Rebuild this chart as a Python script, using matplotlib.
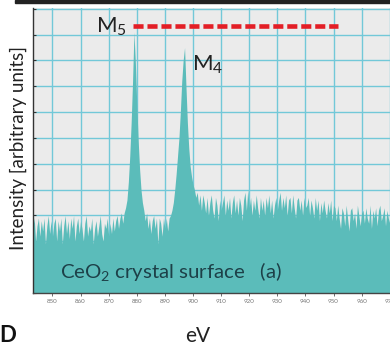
import numpy as np
import matplotlib
matplotlib.use("Agg")
import matplotlib.pyplot as plt
from matplotlib.patches import Rectangle

plt.rcParams['font.family'] = ['Lato', 'DejaVu Sans']
plt.rcParams['mathtext.fontset'] = 'custom'
plt.rcParams['mathtext.rm'] = 'Lato'
plt.rcParams['mathtext.it'] = 'Lato:italic'

# ---- data ----
energy_start = 843.0
energy_step = 0.5
intensity = [
    # 843.0 - 849.5
    2.5, 2.9, 2.0, 2.6, 2.9, 2.2, 2.8, 2.4, 2.9, 1.9, 2.6, 3.0, 2.3, 2.8, 2.2,
    # 850 - 859.5
    2.7, 2.9, 2.0, 2.8, 2.4, 2.9, 1.9, 2.6, 3.0, 2.3, 2.8, 2.1, 2.9, 2.5, 3.0, 2.0, 2.6, 2.9, 2.3, 2.8,
    # 860 - 869.5
    2.5, 2.0, 2.7, 3.0, 2.2, 2.6, 2.4, 2.9, 1.9, 2.5, 2.8, 2.2, 2.6, 3.0, 2.3, 2.0, 2.7, 2.5, 2.9, 2.2,
    # 870 - 879.5
    2.7, 2.3, 2.9, 2.4, 2.8, 3.0, 2.5, 2.9, 3.1, 2.7, 3.1, 3.3, 3.6, 4.3, 5.3, 6.6, 8.2, 10.1, 8.9, 7.3,
    # 880 - 889.5
    5.9, 4.8, 4.0, 3.5, 3.2, 2.8, 3.1, 2.5, 2.9, 2.3, 2.8, 3.0, 2.5, 2.9, 1.9, 2.9, 2.7, 2.2, 2.9, 2.5,
    # 890 - 899.5
    2.9, 2.4, 2.9, 3.0, 3.2, 3.5, 4.0, 4.6, 5.3, 6.0, 7.0, 8.2, 9.0, 9.5, 8.0, 6.6, 5.6, 4.9, 4.5, 4.2,
    # 900 - 909.5
    4.0, 3.7, 3.9, 3.4, 3.8, 3.2, 3.8, 3.5, 3.1, 3.7, 3.0, 3.5, 3.8, 3.2, 2.9, 3.7, 3.4, 2.8, 3.6, 3.2,
    # 910 - 919.5
    3.5, 3.8, 3.0, 3.6, 3.2, 3.7, 2.9, 3.5, 3.8, 3.1, 3.6, 3.0, 3.7, 3.4, 2.8, 3.6, 3.9, 3.2, 4.0, 3.3,
    # 920 - 929.5
    3.7, 3.0, 3.6, 3.2, 3.8, 3.3, 2.9, 3.7, 3.2, 3.6, 3.0, 3.7, 3.3, 3.8, 3.1, 3.6, 2.9, 3.4, 3.7, 3.2,
    # 930 - 939.5
    3.6, 3.9, 3.2, 3.7, 3.3, 3.8, 3.0, 3.6, 3.7, 3.1, 3.8, 3.3, 2.9, 3.6, 3.7, 3.2, 3.6, 3.0, 3.7, 3.3,
    # 940 - 949.5
    3.4, 3.7, 3.0, 3.6, 3.3, 2.9, 3.7, 3.2, 3.6, 2.8, 3.5, 3.1, 3.6, 3.2, 2.9, 3.5, 3.1, 3.6, 2.8, 3.4,
    # 950 - 959.5
    3.3, 2.8, 3.4, 2.9, 2.5, 3.3, 3.1, 2.6, 3.4, 2.9, 2.4, 3.2, 3.3, 2.8, 3.1, 2.5, 3.4, 3.0, 2.6, 3.1,
    # 960 - 971
    3.2, 2.7, 3.3, 2.9, 2.7, 3.4, 2.5, 3.2, 2.9, 3.3, 2.6, 3.2, 3.4, 2.8, 3.0, 3.3, 2.6, 3.2, 2.9, 2.7, 3.3, 2.9, 3.1,
]
energy = energy_start + energy_step * np.arange(len(intensity))

xticks = [850, 860, 870, 880, 890, 900, 910, 920, 930, 940, 950, 960, 970]
yticks = list(range(0, 12))

dash_level = 10.35
dash_start, dash_end = 878.6, 951.6

# ---- figure ----
fig = plt.figure(figsize=(3.9, 3.51), dpi=100)
ax = fig.add_axes([32.8 / 390, 58 / 351, 1 - 32.8 / 390, 285 / 351])
ax.set_facecolor('#ebebeb')
ax.set_xlim(843, 970.1)
ax.set_ylim(0, 11.03)

ax.set_xticks(xticks)
ax.set_xticklabels([str(t) for t in xticks])
ax.set_yticks(yticks)
ax.set_yticklabels([])
ax.grid(True, color='#72c8d8', linewidth=1.0)
ax.set_axisbelow(True)

ax.fill_between(energy, 0, intensity, color='#5bbcba', linewidth=0, zorder=2)

ax.plot([dash_start, dash_end], [dash_level, dash_level], color='#e31e26',
        linewidth=3.3, dashes=(2.2, 0.85), solid_capstyle='butt',
        dash_capstyle='butt', zorder=3)

for s in ['top', 'right']:
    ax.spines[s].set_visible(False)
ax.spines['left'].set_color('#333333')
ax.spines['bottom'].set_color('#444444')
ax.spines['left'].set_linewidth(1.0)
ax.spines['bottom'].set_linewidth(1.0)
ax.tick_params(axis='x', direction='out', length=2, width=0.6, colors='#555555',
               labelsize=4.5, pad=2, labelcolor='#777777')
ax.tick_params(axis='y', direction='in', length=2, width=0.8, colors='#333333')

ax.text(876.6, 10.08, r'M$_\mathrm{5}$', fontsize=16, color='#222222',
        ha='right', va='baseline', zorder=4)
ax.text(899.5, 8.6, r'M$_\mathrm{4}$', fontsize=16, color='#222222',
        ha='left', va='baseline', zorder=4)
ax.text(852.7, 0.58, r'CeO$_\mathrm{2}$ crystal surface   (a)', fontsize=14.7,
        color='#1d4048', ha='left', va='baseline', zorder=4)

fig.text(18 / 390, 1 - 148 / 351, 'Intensity [arbitrary units]', rotation=90,
         fontsize=13.5, color='#222222', ha='center', va='center')
fig.text(198 / 390, 1 - 342 / 351, 'eV', fontsize=15, color='#222222',
         ha='center', va='baseline')
fig.text(-1 / 390, 1 - 342 / 351, 'D', fontsize=16, fontweight='bold',
         color='#111111', ha='left', va='baseline')

fig.patches.append(Rectangle((15 / 390, 348 / 351), 1, 3 / 351,
                             transform=fig.transFigure, color='#222222',
                             zorder=5))

fig.savefig('out.png', dpi=100)
